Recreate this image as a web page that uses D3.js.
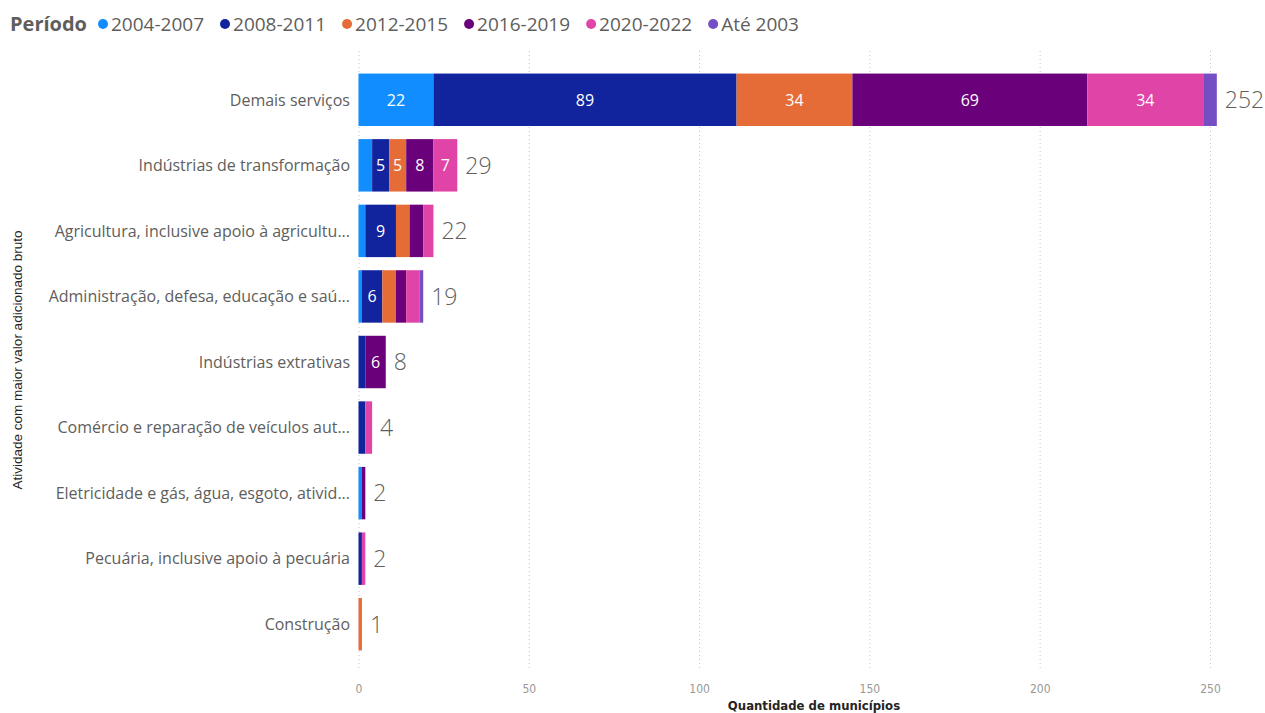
<!DOCTYPE html>
<html>
  <head>
    <meta charset="utf-8">
    <title>Atividade com maior valor adicionado bruto</title>
    <script src="https://d3js.org/d3.v7.min.js"></script>
    <style>
      body { margin: 0; background: #fff; }
      .grid line { stroke: #c8c6c4; stroke-dasharray: 1 3; stroke-width: 1; }
      .grid .domain { display: none; }
      .xaxis .domain, .xaxis line { display: none; }
      .xaxis text { font-family: "Liberation Sans Narrow", "DejaVu Sans Condensed", sans-serif; font-size: 12px; fill: #9a9896; }
      .cat { font-family: "Open Sans", "Noto Sans", sans-serif; font-size: 16px; fill: #605e5c; }
      .inlabel { font-family: "Open Sans", "Noto Sans", sans-serif; font-size: 16px; fill: #fff; }
      .total { font-family: "Open Sans", "Noto Sans", sans-serif; font-size: 23px; font-weight: 300; fill: #605e5c; }
      .legend text { font-family: "Open Sans", "Noto Sans", sans-serif; font-size: 19px; fill: #605e5c; }
    </style>
  </head>
  <body>
    <svg width="1265" height="713"></svg>
    <script>
      const categories = [
        "Demais serviços",
        "Indústrias de transformação",
        "Agricultura, inclusive apoio à agricultu...",
        "Administração, defesa, educação e saú...",
        "Indústrias extrativas",
        "Comércio e reparação de veículos aut...",
        "Eletricidade e gás, água, esgoto, ativid...",
        "Pecuária, inclusive apoio à pecuária",
        "Construção"
      ];
      const periods = ["2004-2007", "2008-2011", "2012-2015", "2016-2019", "2020-2022", "Até 2003"];
      const colors = ["#118dff", "#12239e", "#e66c37", "#6b007b", "#e044a7", "#744ec2"];
      // values per period, in category order
      const v2004_2007 = [22, 4, 2, 1, 0, 0, 1, 0, 0];
      const v2008_2011 = [89, 5, 9, 6, 2, 2, 0, 1, 0];
      const v2012_2015 = [34, 5, 4, 4, 0, 0, 0, 0, 1];
      const v2016_2019 = [69, 8, 4, 3, 6, 0, 1, 0, 0];
      const v2020_2022 = [34, 7, 3, 4, 0, 2, 0, 1, 0];
      const vAte2003   = [4, 0, 0, 1, 0, 0, 0, 0, 0];
      const xTicks = [0, 50, 100, 150, 200, 250];

      const series = [v2004_2007, v2008_2011, v2012_2015, v2016_2019, v2020_2022, vAte2003];
      const rows = categories.map((c, i) => {
        const r = {category: c};
        periods.forEach((p, j) => r[p] = series[j][i]);
        return r;
      });

      const svg = d3.select("svg");
      const x = d3.scaleLinear().domain([0, 250]).range([358.5, 1210]);
      const y = d3.scaleBand().domain(categories).range([67, 657]).paddingInner(0.2).paddingOuter(0.1);
      const color = d3.scaleOrdinal().domain(periods).range(colors);

      // grid
      svg.append("g")
          .attr("class", "grid")
          .attr("transform", "translate(0,668)")
          .call(d3.axisBottom(x).tickValues(xTicks).tickSize(-620).tickFormat(""));

      svg.append("g")
          .attr("class", "xaxis")
          .attr("transform", "translate(0,681)")
          .call(d3.axisBottom(x).tickValues(xTicks).tickSize(0));

      const stacked = d3.stack().keys(periods)(rows);

      const layer = svg.append("g").selectAll("g")
        .data(stacked)
        .join("g")
          .attr("fill", d => color(d.key));

      layer.selectAll("rect")
        .data(d => d.map(s => ({s, key: d.key})))
        .join("rect")
          .attr("x", d => x(d.s[0]))
          .attr("y", d => y(d.s.data.category))
          .attr("width", d => x(d.s[1]) - x(d.s[0]))
          .attr("height", y.bandwidth());

      layer.selectAll("text")
        .data(d => d.map(s => ({s, key: d.key})).filter(d => d.s[1] - d.s[0] >= 5))
        .join("text")
          .attr("class", "inlabel")
          .attr("x", d => (x(d.s[0]) + x(d.s[1])) / 2)
          .attr("y", d => y(d.s.data.category) + y.bandwidth() / 2)
          .attr("dy", "0.36em")
          .attr("text-anchor", "middle")
          .text(d => d.s[1] - d.s[0]);

      const totals = rows.map(r => d3.sum(periods, p => r[p]));

      svg.append("g").selectAll("text")
        .data(rows)
        .join("text")
          .attr("class", "total")
          .attr("x", (d, i) => x(totals[i]) + 8)
          .attr("y", d => y(d.category) + y.bandwidth() / 2)
          .attr("dy", "0.36em")
          .text((d, i) => totals[i]);

      svg.append("g").selectAll("text")
        .data(categories)
        .join("text")
          .attr("class", "cat")
          .attr("x", 350)
          .attr("y", d => y(d) + y.bandwidth() / 2)
          .attr("dy", "0.36em")
          .attr("text-anchor", "end")
          .text(d => d);

      // axis titles
      svg.append("text")
          .attr("x", 814)
          .attr("y", 710)
          .attr("text-anchor", "middle")
          .style("font-family", "'Liberation Sans Narrow', 'DejaVu Sans Condensed', sans-serif")
          .style("font-size", "13px")
          .style("font-weight", "bold")
          .style("fill", "#252423")
          .text("Quantidade de municípios");

      svg.append("text")
          .attr("transform", "translate(22,360) rotate(-90)")
          .attr("text-anchor", "middle")
          .style("font-family", "'Liberation Sans', Arial, sans-serif")
          .style("font-size", "13.5px")
          .style("fill", "#252423")
          .text("Atividade com maior valor adicionado bruto");

      // legend
      const legend = svg.append("g").attr("class", "legend");
      const title = legend.append("text")
          .attr("x", 10)
          .attr("y", 31)
          .style("font-size", "20px")
          .style("font-weight", "bold")
          .text("Período");
      let lx = 10 + title.node().getComputedTextLength() + 11;
      periods.forEach(p => {
        legend.append("circle")
            .attr("cx", lx + 5)
            .attr("cy", 24)
            .attr("r", 5)
            .attr("fill", color(p));
        const t = legend.append("text")
            .attr("x", lx + 13)
            .attr("y", 31)
            .text(p);
        lx += 13 + t.node().getComputedTextLength() + 16;
      });
    </script>
  </body>
</html>
